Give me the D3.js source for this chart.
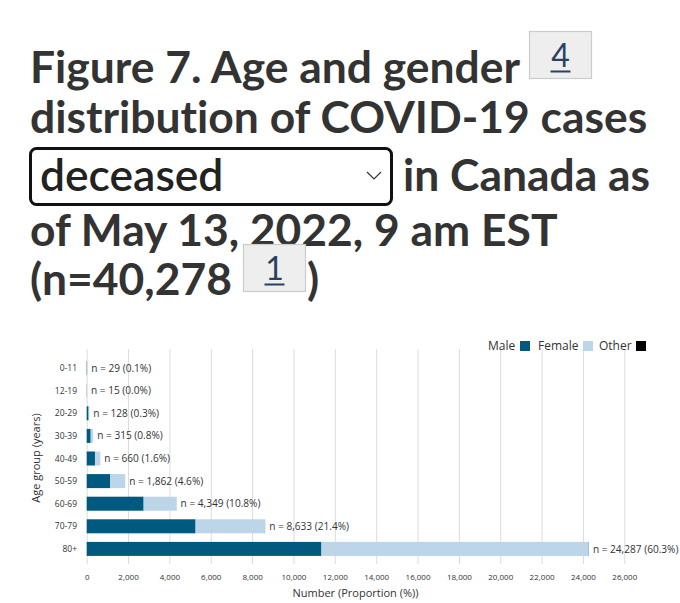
<!DOCTYPE html>
<html>
<head>
<meta charset="utf-8">
<script src="https://cdn.jsdelivr.net/npm/d3@7"></script>
<style>
  html,body{margin:0;padding:0;background:#fff;}
  svg{display:block;}
  svg text{font-variant-ligatures:none;}
</style>
</head>
<body>
<div id="chart"></div>
<script>
const ageGroups=["0-11","12-19","20-29","30-39","40-49","50-59","60-69","70-79","80+"];
const male=[15,9,90,193,400,1140,2754,5266,11353];
const female=[14,6,38,122,260,721,1593,3364,12926];
const other=[0,0,0,0,0,1,2,3,8];
const totals=[29,15,128,315,660,1862,4349,8633,24287];
const shares=[0.1,0.0,0.3,0.8,1.6,4.6,10.8,21.4,60.3];
const xTicks=d3.range(0,26001,2000);
const genders=["Male","Female","Other"];

(function(){
  const ink="#333";
  const colors={Male:"#005a7f",Female:"#bcd5e8",Other:"#000"};
  const W=680,H=603;
  const svg=d3.select("#chart").append("svg").attr("width",W).attr("height",H);

  // title
  const t=svg.append("g").attr("font-family","Lato, sans-serif")
    .attr("font-weight",700).attr("font-size",44.4).attr("fill",ink);
  const line=(x,y,s)=>t.append("text").attr("x",x).attr("y",y).text(s);
  line(30,83,"Figure 7. Age and gender");
  line(30,133,"distribution of COVID-19 cases");
  line(403,191,"in Canada as");
  line(30,246,"of May 13, 2022, 9 am EST");
  line(30,295,"(n=40,278");
  line(307,295,")");

  function note(x,y,label){
    const g=svg.append("g").attr("transform",`translate(${x},${y})`);
    g.append("rect").attr("width",62).attr("height",47)
      .attr("fill","#eeeeee").attr("stroke","#cccccc").attr("stroke-width",1.2);
    g.append("text").attr("x",31).attr("y",35).attr("text-anchor","middle")
      .attr("font-family","Lato, sans-serif").attr("font-size",32)
      .attr("fill","#284162").text(label);
    g.append("line").attr("x1",21).attr("x2",41).attr("y1",40).attr("y2",40)
      .attr("stroke","#284162").attr("stroke-width",2);
  }
  note(529.5,31.5,"4");
  note(243.5,244.5,"1");

  // dropdown
  const sel=svg.append("g").attr("transform","translate(29,147)");
  sel.append("rect").attr("x",1.5).attr("y",1.5).attr("width",361).attr("height",56)
    .attr("rx",6).attr("fill","#fff").attr("stroke","#111").attr("stroke-width",3);
  sel.append("text").attr("x",11).attr("y",44)
    .attr("font-family","Lato, sans-serif").attr("font-size",44.4)
    .attr("font-weight",600).attr("fill","#222").text("deceased");
  sel.append("path").attr("d","M338,25 L345,32 L352,25")
    .attr("fill","none").attr("stroke","#333").attr("stroke-width",1.2);

  // chart
  const x=d3.scaleLinear().domain([0,26000]).range([86.7,624.3]);
  const y=d3.scaleBand().domain(ageGroups).range([352.5,564.5]).padding(0.38);
  const c=svg.append("g").attr("font-family","'Open Sans', sans-serif");

  c.append("g").attr("transform","translate(0,564)")
    .call(d3.axisBottom(x).tickValues(xTicks).tickFormat(d3.format(",")).tickSize(-215).tickPadding(10.5))
    .call(s=>s.select(".domain").remove())
    .call(s=>s.selectAll("line").attr("stroke","#dcdcdc"))
    .call(s=>s.selectAll("text").attr("font-size",8).attr("fill",ink).attr("font-family","'Open Sans', sans-serif"));

  const rows=ageGroups.map((a,i)=>({age:a,Male:male[i],Female:female[i],Other:other[i],total:totals[i],share:shares[i]}));
  const stack=d3.stack().keys(genders)(rows);

  c.selectAll(".layer").data(stack).join("g")
    .attr("fill",d=>colors[d.key])
    .selectAll("rect").data(d=>d).join("rect")
    .attr("x",d=>x(d[0])).attr("width",d=>x(d[1])-x(d[0]))
    .attr("y",d=>y(d.data.age)).attr("height",y.bandwidth());

  c.selectAll(".val").data(rows).join("text")
    .attr("x",d=>x(d.total)+4).attr("y",d=>y(d.age)+y.bandwidth()/2+3.6)
    .attr("font-size",10.1).attr("fill",ink)
    .text(d=>`n = ${d3.format(",")(d.total)} (${d.share.toFixed(1)}%)`);

  c.selectAll(".age").data(ageGroups).join("text")
    .attr("x",77).attr("y",d=>y(d)+y.bandwidth()/2+3)
    .attr("text-anchor","end").attr("font-size",8.5).attr("fill",ink).text(d=>d);

  c.append("text").attr("transform","translate(40,458) rotate(-90)")
    .attr("text-anchor","middle").attr("font-size",11).attr("fill",ink)
    .text("Age group (years)");

  c.append("text").attr("x",355.5).attr("y",597)
    .attr("text-anchor","middle").attr("font-size",11).attr("fill",ink)
    .text("Number (Proportion (%))");

  // legend
  const lg=c.append("g").attr("transform","translate(0,350)");
  const lx={Male:[488,520],Female:[538,583],Other:[599,636]};
  genders.forEach(k=>{
    lg.append("text").attr("x",lx[k][0]).attr("y",0).attr("font-size",12).attr("fill",ink).text(k);
    lg.append("rect").attr("x",lx[k][1]).attr("y",-9).attr("width",10).attr("height",10).attr("fill",colors[k]);
  });
})();
</script>
</body>
</html>
